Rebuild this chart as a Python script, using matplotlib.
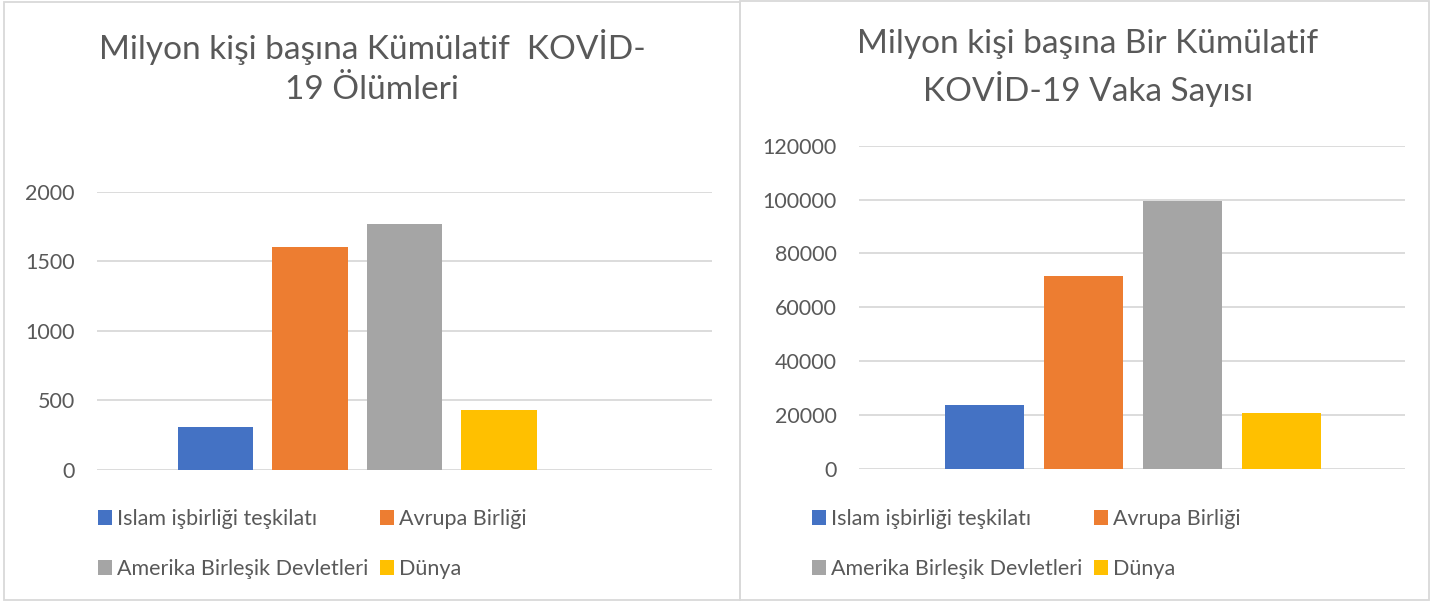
import matplotlib
matplotlib.use('Agg')
import matplotlib.pyplot as plt
from matplotlib.patches import Rectangle
import numpy as np

plt.rcParams['font.family'] = ['Lato', 'DejaVu Sans']

# data
series = ['Islam işbirliği teşkilatı', 'Avrupa Birliği',
          'Amerika Birleşik Devletleri', 'Dünya']
colors = ['#4472c4', '#ed7d31', '#a5a5a5', '#ffc000']
deaths = [309, 1603, 1768, 431]
cases = [23700, 71600, 99500, 20800]
title_left = 'Milyon kişi başına Kümülatif  KOVİD-\n19 Ölümleri'
title_right = 'Milyon kişi başına Bir Kümülatif\nKOVİD-19 Vaka Sayısı'

W, H = 1430, 604
text_col = '#595959'
grid_col = '#d9d9d9'

fig = plt.figure(figsize=(W / 100, H / 100), dpi=100)


def px_axes(x0, y0, x1, y1):
    # pixel box (top-left origin) -> figure fraction
    return fig.add_axes([x0 / W, 1 - y1 / H, (x1 - x0) / W, (y1 - y0) / H])


def panel(x0, y0, x1, y1):
    fig.patches.append(Rectangle((x0 / W, 1 - y1 / H), (x1 - x0) / W, (y1 - y0) / H,
                                 transform=fig.transFigure, fill=False,
                                 edgecolor=grid_col, lw=1.3))


def bar_chart(ax, values, ymax, step, xlim, title, title_x, legend_x):
    x = np.arange(len(values))
    bars = ax.bar(x, values, width=0.8, color=colors, zorder=3)
    ax.set_xlim(*xlim)
    ax.set_ylim(0, ymax)
    ax.set_yticks(np.arange(0, ymax + 1, step))
    ax.set_xticks([])
    ax.grid(axis='y', color=grid_col, lw=1.3, zorder=0)
    for s in ax.spines.values():
        s.set_visible(False)
    ax.tick_params(axis='y', length=0, pad=16, labelsize=15.5, labelcolor=text_col)
    fig.text(title_x / W, 1 - 29 / H, title, ha='center', va='top',
             fontsize=24, color=text_col, linespacing=1.4)
    # legend reads row by row, matplotlib fills by column
    order = [0, 2, 1, 3]
    fig.legend([bars[i] for i in order], [series[i] for i in order],
               loc='upper left', ncol=2,
               bbox_to_anchor=(legend_x / W, 1 - 509 / H),
               frameon=False, fontsize=15.5, labelcolor=text_col,
               handlelength=0.65, handleheight=0.65, handletextpad=0.25,
               columnspacing=0.5, labelspacing=1.4, borderpad=0, borderaxespad=0)


panel(4, 2, 740, 600)
panel(740, 1, 1429, 600)

ax1 = px_axes(97, 191.7, 712, 470)
bar_chart(ax1, deaths, 2000, 500, (-1.254, 5.254), title_left, 372, 98)

ax2 = px_axes(859, 145.7, 1405, 469)
bar_chart(ax2, cases, 120000, 20000, (-1.268, 4.247), title_right, 1088, 812)

fig.savefig('out.png', dpi=100, facecolor='white')
